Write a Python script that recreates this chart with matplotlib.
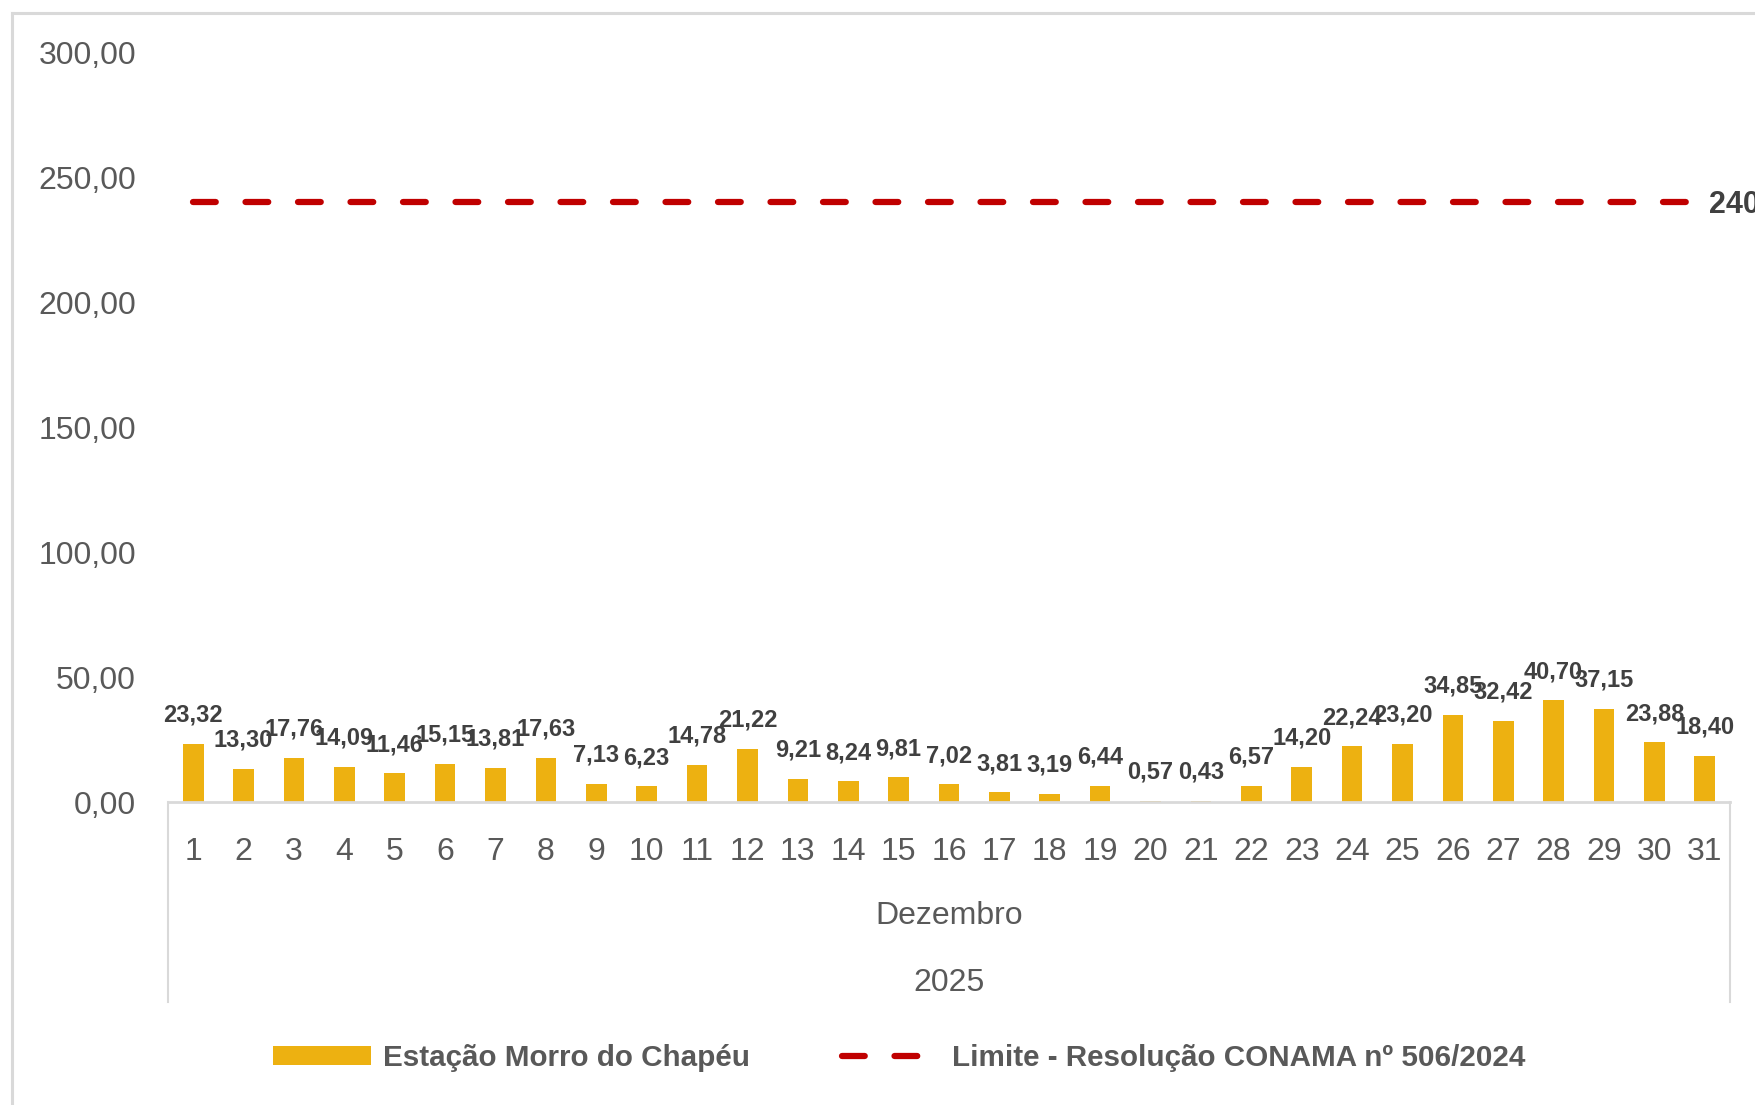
import matplotlib
matplotlib.use('Agg')
import matplotlib.pyplot as plt
from matplotlib.lines import Line2D
from matplotlib.patches import Patch

# data
dias = list(range(1, 32))
valores = [23.32, 13.30, 17.76, 14.09, 11.46, 15.15, 13.81, 17.63, 7.13, 6.23,
           14.78, 21.22, 9.21, 8.24, 9.81, 7.02, 3.81, 3.19, 6.44, 0.57,
           0.43, 6.57, 14.20, 22.24, 23.20, 34.85, 32.42, 40.70, 37.15, 23.88,
           18.40]
limite = 240
yticks = [0, 50, 100, 150, 200, 250, 300]
mes = 'Dezembro'
ano = '2025'
serie_nome = 'Estação Morro do Chapéu'
limite_nome = 'Limite - Resolução CONAMA nº 506/2024'

def fmt(v):
    return f'{v:.2f}'.replace('.', ',')

plt.rcParams['font.family'] = ['Liberation Sans', 'DejaVu Sans']

W, H = 1756, 1105
fig = plt.figure(figsize=(W / 100, H / 100), dpi=100)
ax = fig.add_axes([168 / W, 1 - 802 / H, (1730 - 168) / W, (802 - 52.6) / H])

bar_color = '#EDB111'
red = '#C00000'
grid_gray = '#D9D9D9'
txt_gray = '#595959'
lbl_gray = '#404040'

ax.bar(dias, valores, width=0.41, color=bar_color, zorder=2)
ax.plot(dias, [limite] * len(dias), color=red, lw=4.5, dashes=(3.64, 4.76),
        dash_capstyle='round', zorder=3)

# data labels
for d, v in zip(dias, valores):
    ax.annotate(fmt(v), (d, v), xytext=(0, 16), textcoords='offset points',
                ha='center', va='baseline', fontsize=17, fontweight='bold',
                color=lbl_gray)

ax.annotate(str(limite), (dias[-1], limite), xytext=(3, -2), textcoords='offset points',
            ha='left', va='center', fontsize=22, fontweight='bold', color=lbl_gray,
            annotation_clip=False)

ax.set_xlim(0.5, 31.5)
ax.set_ylim(0, 300)
ax.set_yticks(yticks)
ax.set_yticklabels([fmt(t) for t in yticks])
ax.set_xticks(dias)
ax.set_xticklabels([str(d) for d in dias])
ax.tick_params(axis='y', length=0, pad=23, labelsize=23, labelcolor=txt_gray)
ax.tick_params(axis='x', length=0, pad=25, labelsize=23, labelcolor=txt_gray)

for s in ['top', 'right', 'left']:
    ax.spines[s].set_visible(False)
ax.spines['bottom'].set_color(grid_gray)
ax.spines['bottom'].set_linewidth(2)

# multi-level category brackets
for xa in (0, 1):
    ax.plot([xa, xa], [0, -0.267], transform=ax.transAxes, color=grid_gray,
            lw=1.5, clip_on=False)
ax.text(0.5, -0.152, mes, transform=ax.transAxes, ha='center', va='center',
        fontsize=23, color=txt_gray)
ax.text(0.5, -0.2415, ano, transform=ax.transAxes, ha='center', va='center',
        fontsize=23, color=txt_gray)

# outer chart frame
fig.add_artist(Line2D([12 / W, 12 / W], [0, 1 - 13 / H], color=grid_gray, lw=2.2))
fig.add_artist(Line2D([12 / W, 1], [1 - 13 / H, 1 - 13 / H], color=grid_gray, lw=2.2))

handles = [Patch(facecolor=bar_color, edgecolor='none'),
           Line2D([0], [0], color=red, lw=4.5, dashes=(3.64, 4.76), dash_capstyle='round')]
leg = fig.legend(handles, [serie_nome, limite_nome], loc='center',
                 bbox_to_anchor=(0.512, 1 - 1058 / H), ncol=2, frameon=False,
                 handlelength=3.3, handleheight=0.6, handletextpad=0.42,
                 columnspacing=3.1,
                 prop={'weight': 'bold', 'size': 21.3})
for t in leg.get_texts():
    t.set_color(txt_gray)

fig.savefig('out.png', dpi=100)
